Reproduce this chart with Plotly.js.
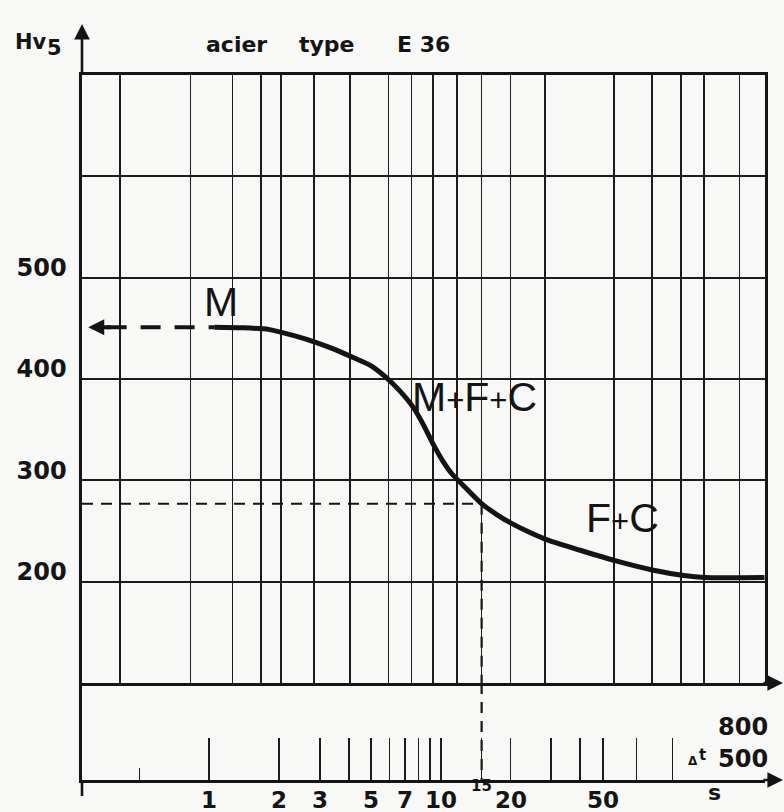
<!DOCTYPE html>
<html>
<head>
<meta charset="utf-8">
<script src="https://cdn.plot.ly/plotly-3.0.1.min.js"></script>
<style>html,body{margin:0;padding:0;background:#f8f8f6;}#chart{width:784px;height:812px;}</style>
</head>
<body>
<div id="chart"></div>
<script>
// ---- data ----
// hardness curve: cooling time Δt 800/500 (s) vs Hv5
const curveT  = [1.05, 1.4, 1.8, 2.3, 2.9, 3.5, 4.2, 5.0, 5.7, 6.6, 7.6, 8.4, 9.2, 10.2, 11.2, 13, 15, 17.5, 20, 24, 29, 40, 56, 84, 112, 138, 250];
const curveHv = [451, 450.5, 449, 443, 436, 429, 421, 413, 403, 389, 372, 355, 337, 319, 306, 291, 277, 266, 258, 249, 241, 231, 221, 211, 206, 204, 204];
// martensite level (dashed, arrow to short times)
const martT  = [0.36, 1.05];
const martHv = [451, 451];
const martArrowT = 0.30;
// reading at Δt = 15 s
const readT  = 15;
const readHv = 277;
// vertical lines of the chart paper (s)
const paperGridT = [0.41, 0.83, 1.26, 1.67, 2.04, 2.83, 4.04, 5.94, 7.47, 9.27, 11.7, 15, 20, 28.1, 56, 81.8, 109, 137, 195];
// hardness grid / labels
const hvGrid   = [100, 200, 300, 400, 500, 600, 700];
const hvLabels = ['', '200', '300', '400', '500', '', ''];
// Δt scale ticks and labels
const stripTickT   = [1, 2, 3, 4, 5, 6, 7, 8, 9, 10, 15, 20, 30, 40, 50, 70, 100];
const stripMinorT  = [0.5];
const stripLabelT  = [1, 2, 3, 5, 7, 10, 20, 50];
const stripLabels  = ['1', '2', '3', '5', '7', '10', '20', '50'];
// phase labels
const phaseLabels = [
  {text: 'M', x: 221, y: 302},
  {text: 'M<span style="font-size:31px">+</span>F<span style="font-size:31px">+</span>C', x: 474, y: 397},
  {text: 'F<span style="font-size:31px">+</span>C', x: 622, y: 518}
];

// ---- layout helpers ----
const X_RANGE = [-0.55, 2.40];
const L = 82, R = 19, T = 75, B = 32, W = 784, H = 812;
const PW = W - L - R, PH = H - T - B;
const STRIP = 97 / PH;
const px = x => (x - L) / PW;
const py = y => (H - B - y) / PH;
const INK = '#141414';

const traces = [
  {x: curveT, y: curveHv, xaxis: 'x', yaxis: 'y', mode: 'lines',
   line: {color: INK, width: 5, shape: 'spline', smoothing: 0.6}},
  {x: martT, y: martHv, xaxis: 'x', yaxis: 'y', mode: 'lines',
   line: {color: INK, width: 4, dash: '20px,14px'}},
  {x: [Math.pow(10, X_RANGE[0]), readT], y: [readHv, readHv], xaxis: 'x', yaxis: 'y', mode: 'lines',
   line: {color: INK, width: 2, dash: '11px,8px'}},
  {x: [readT, readT], y: [readHv, 100], xaxis: 'x', yaxis: 'y', mode: 'lines',
   line: {color: INK, width: 2.2, dash: '11px,8px'}},
  {x: [readT, readT], y: [1, 0], xaxis: 'x2', yaxis: 'y2', mode: 'lines',
   line: {color: INK, width: 2.2, dash: '11px,8px'}}
];

const ann = [];
const boldFont = size => ({family: 'DejaVu Sans', size: size, color: INK, weight: 'bold'});
function txt(text, x, y, size, opts) {
  ann.push(Object.assign({xref: 'paper', yref: 'paper', x: px(x), y: py(y), text: text,
    showarrow: false, xanchor: 'center', yanchor: 'middle', font: boldFont(size)}, opts || {}));
}
txt('acier', 236, 44, 22);
txt('type', 327, 44, 22);
txt('E 36', 423, 44, 22);
txt('Hv', 31, 42, 21);
txt('5', 54, 48, 21);
txt('800', 743, 727, 24);
txt('500', 743, 759, 24);
txt('Δ', 693, 761, 12);
txt('t', 702, 755, 15);
txt('s', 714, 792, 22);
stripLabelT.forEach((t, i) => ann.push({xref: 'x2', yref: 'paper', x: Math.log10(t), y: py(800),
  text: stripLabels[i], showarrow: false, xanchor: 'center', yanchor: 'middle', font: boldFont(23)}));
ann.push({xref: 'x2', yref: 'paper', x: Math.log10(readT), y: py(786), text: '15', showarrow: false,
  xanchor: 'center', yanchor: 'middle', font: boldFont(15)});
phaseLabels.forEach(p => ann.push({xref: 'paper', yref: 'paper', x: px(p.x), y: py(p.y), text: p.text,
  showarrow: false, xanchor: 'center', yanchor: 'middle',
  font: {family: 'Liberation Sans', size: 41, color: INK}}));
// arrow of M level
ann.push({xref: 'x', yref: 'y', x: Math.log10(martArrowT), y: martHv[0], ax: 24, ay: 0, text: '',
  showarrow: true, arrowhead: 2, arrowsize: 0.8, arrowwidth: 4, arrowcolor: INK});
// axis arrows
ann.push({xref: 'paper', yref: 'paper', x: 0, y: py(24), ax: 0, ay: 52, text: '',
  showarrow: true, arrowhead: 2, arrowsize: 1.2, arrowwidth: 2.6, arrowcolor: INK});
ann.push({xref: 'paper', yref: 'paper', x: px(784), y: STRIP, ax: -22, ay: 0, text: '',
  showarrow: true, arrowhead: 2, arrowsize: 1.2, arrowwidth: 2.6, arrowcolor: INK});
ann.push({xref: 'paper', yref: 'paper', x: px(784), y: 0, ax: -22, ay: 0, text: '',
  showarrow: true, arrowhead: 2, arrowsize: 1.2, arrowwidth: 2.6, arrowcolor: INK});

const layout = {
  width: W, height: H, margin: {l: L, r: R, t: T, b: B},
  paper_bgcolor: '#f8f8f6', plot_bgcolor: '#f8f8f6', showlegend: false,
  font: {family: 'DejaVu Sans', color: INK},
  xaxis: {type: 'log', range: X_RANGE, domain: [0, 1], anchor: 'y',
    tickmode: 'array', tickvals: paperGridT, showticklabels: false, ticks: '',
    showgrid: true, gridcolor: '#1c1c1c', gridwidth: 1.7,
    showline: true, linecolor: INK, linewidth: 2.6, mirror: true, zeroline: false},
  yaxis: {domain: [STRIP, 1], anchor: 'x', range: [100, 700],
    tickmode: 'array', tickvals: hvGrid, ticktext: hvLabels, ticks: '',
    ticklabelshift: -10, ticklabelstandoff: 8,
    tickfont: boldFont(24),
    showgrid: true, gridcolor: '#1c1c1c', gridwidth: 2,
    showline: true, linecolor: INK, linewidth: 2.6, mirror: true, zeroline: false},
  xaxis2: {type: 'log', range: X_RANGE, domain: [0, 1], anchor: 'y2',
    tickmode: 'array', tickvals: stripTickT, showticklabels: false,
    ticks: 'inside', ticklen: 42, tickwidth: 1.7, tickcolor: '#1c1c1c',
    minor: {tickmode: 'array', tickvals: stripMinorT, ticks: 'inside', ticklen: 12,
      tickwidth: 1.7, tickcolor: '#1c1c1c', showgrid: false},
    showgrid: false, showline: true, linecolor: INK, linewidth: 2.6, zeroline: false},
  yaxis2: {domain: [0, STRIP], anchor: 'x2', range: [0, 1],
    showticklabels: false, ticks: '', showgrid: false, zeroline: false,
    showline: true, linecolor: INK, linewidth: 2.6},
  shapes: [
    {type: 'line', xref: 'paper', yref: 'paper', x0: 0, x1: 0, y0: 0, y1: py(796),
     line: {color: INK, width: 2.6}}
  ],
  annotations: ann
};

Plotly.newPlot('chart', traces, layout, {staticPlot: true, displayModeBar: false});
</script>
</body>
</html>
